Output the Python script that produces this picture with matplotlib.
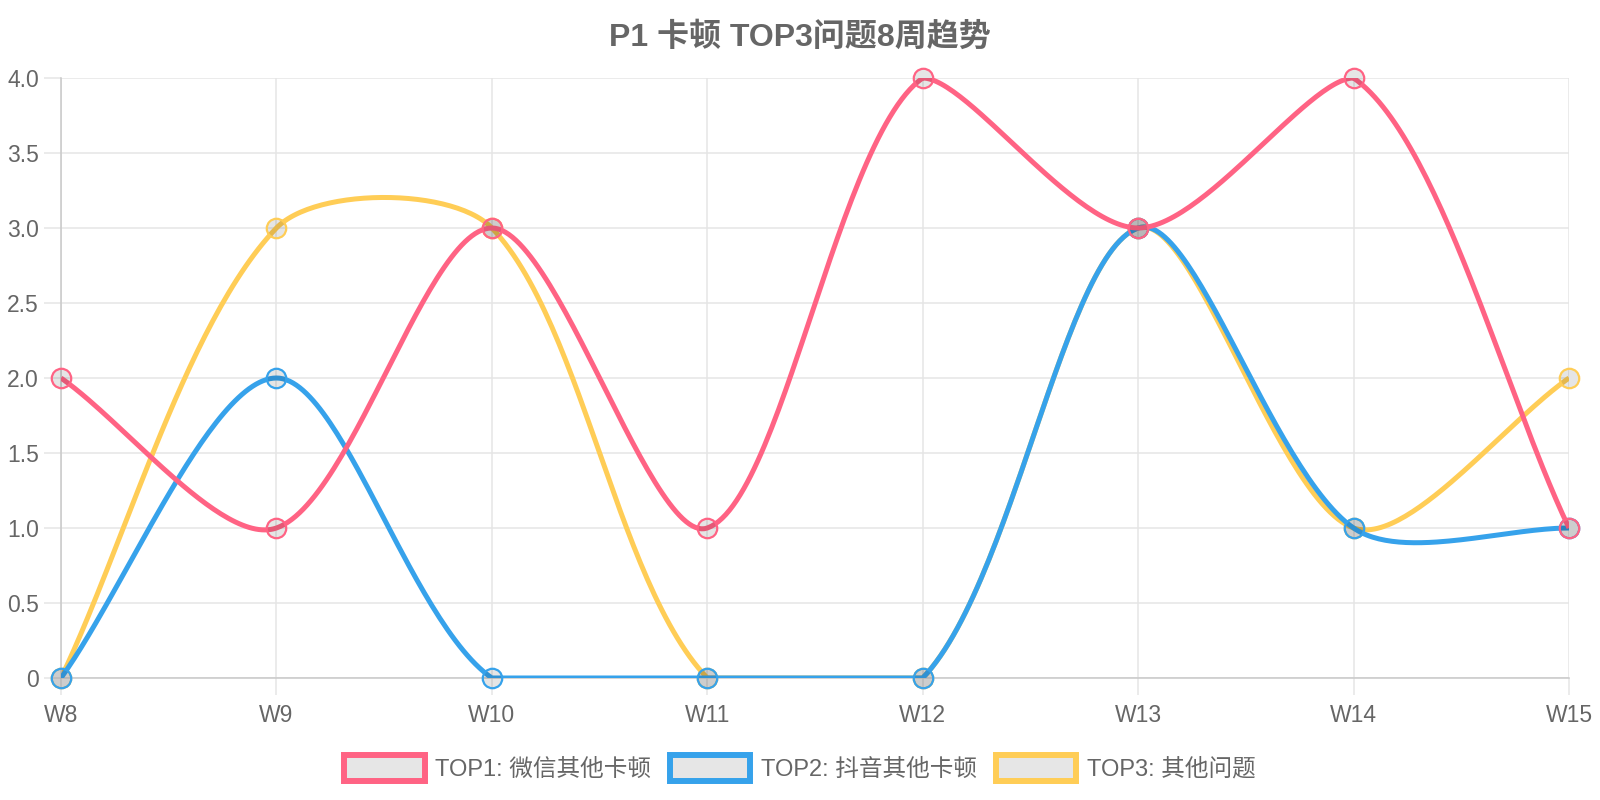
import numpy as np
import matplotlib
matplotlib.use('Agg')
import matplotlib.pyplot as plt
from matplotlib.patches import Rectangle

plt.rcParams['font.family'] = ['Liberation Sans', 'Noto Sans CJK SC', 'DejaVu Sans']

#%% datos
semanas = ['W8', 'W9', 'W10', 'W11', 'W12', 'W13', 'W14', 'W15']
top1 = [2, 1, 3, 1, 4, 3, 4, 1]
top2 = [0, 2, 0, 0, 0, 3, 1, 1]
top3 = [0, 3, 3, 0, 0, 3, 1, 2]
nombres = ['TOP1: 微信其他卡顿', 'TOP2: 抖音其他卡顿', 'TOP3: 其他问题']
colores = ['#ff6384', '#36a2eb', '#ffcd56']
yticks = [0, 0.5, 1.0, 1.5, 2.0, 2.5, 3.0, 3.5, 4.0]
ytick_labels = ['0', '0.5', '1.0', '1.5', '2.0', '2.5', '3.0', '3.5', '4.0']
titulo = 'P1 卡顿 TOP3问题8周趋势'

W, H = 1600, 800
x0, x1 = 61, 1569     # px area
y0, y1 = 678, 78
sx = (x1 - x0) / (len(semanas) - 1)
sy = (y0 - y1) / 4.0


#%% curva tipo chart.js (tension, puntos de control acotados al area)
def curva_spline(vals, t=0.3, n=60):
    px = np.arange(len(vals)) * sx
    py = np.asarray(vals, dtype=float) * sy
    N = len(vals)
    cps = []
    for i in range(N):
        pr = (px[max(i - 1, 0)], py[max(i - 1, 0)])
        cu = (px[i], py[i])
        nx = (px[min(i + 1, N - 1)], py[min(i + 1, N - 1)])
        d01 = np.hypot(cu[0] - pr[0], cu[1] - pr[1])
        d12 = np.hypot(nx[0] - cu[0], nx[1] - cu[1])
        s01 = d01 / (d01 + d12) if d01 + d12 > 0 else 0
        s12 = d12 / (d01 + d12) if d01 + d12 > 0 else 0
        fa, fb = t * s01, t * s12
        prev = [cu[0] - fa * (nx[0] - pr[0]), cu[1] - fa * (nx[1] - pr[1])]
        nxt = [cu[0] + fb * (nx[0] - pr[0]), cu[1] + fb * (nx[1] - pr[1])]
        for c in (prev, nxt):
            c[0] = min(max(c[0], 0), px[-1])
            c[1] = min(max(c[1], 0), 4 * sy)
        cps.append((prev, nxt))
    xs, ys = [], []
    u = np.linspace(0, 1, n)
    for i in range(N - 1):
        P0 = np.array([px[i], py[i]])
        P1 = np.array(cps[i][1])
        P2 = np.array(cps[i + 1][0])
        P3 = np.array([px[i + 1], py[i + 1]])
        b = ((1 - u) ** 3)[:, None] * P0 + (3 * (1 - u) ** 2 * u)[:, None] * P1 \
            + (3 * (1 - u) * u ** 2)[:, None] * P2 + (u ** 3)[:, None] * P3
        xs.append(b[:, 0]); ys.append(b[:, 1])
    return np.concatenate(xs) / sx, np.concatenate(ys) / sy


#%% figura
fig = plt.figure(figsize=(16, 8), dpi=100)
ax = fig.add_axes([x0 / W, 1 - y0 / H, (x1 - x0) / W, (y0 - y1) / H])
gris = '#e5e5e5'

series = [top1, top2, top3]
for k in (2, 1, 0):
    xc, yc = curva_spline(series[k])
    z = 2 + (2 - k)
    ax.plot(xc, yc, color=colores[k], lw=3.6, solid_capstyle='butt', zorder=z)
    ax.plot(range(len(semanas)), series[k], 'o', ms=14, mew=1.6,
            mfc=(0, 0, 0, 0.1), mec=colores[k], zorder=z + 0.5, clip_on=False)

ax.set_xlim(0, len(semanas) - 1)
ax.set_ylim(0, 4)
ax.set_xticks(range(len(semanas)))
ax.set_xticklabels(semanas)
ax.set_yticks(yticks)
ax.set_yticklabels(ytick_labels)
ax.grid(True, color=gris, lw=1.1)
ax.set_axisbelow(True)
for s in ('top', 'right'):
    ax.spines[s].set_visible(False)
for s in ('left', 'bottom'):
    ax.spines[s].set_color('#c8c8c8')
    ax.spines[s].set_linewidth(1.1)
ax.tick_params(axis='both', length=12, width=1.1, color=gris,
               labelcolor='#666666', labelsize=16.5)
ax.tick_params(axis='y', pad=4)
ax.tick_params(axis='x', pad=7)

fig.text(0.5, 1 - 38 / H, titulo, ha='center', va='center',
         fontsize=23, fontweight='bold', color='#666666')

handles = [Rectangle((0, 0), 1, 1, facecolor='#e6e6e6', edgecolor=c, lw=4.3)
           for c in colores]
fig.legend(handles, nombres, loc='center', bbox_to_anchor=(0.5, 1 - 768 / H),
           ncol=3, frameon=False, fontsize=17, labelcolor='#666666',
           handlelength=3.4, handleheight=1.3, handletextpad=0.45,
           columnspacing=0.8)

fig.savefig('out.png', dpi=100)
